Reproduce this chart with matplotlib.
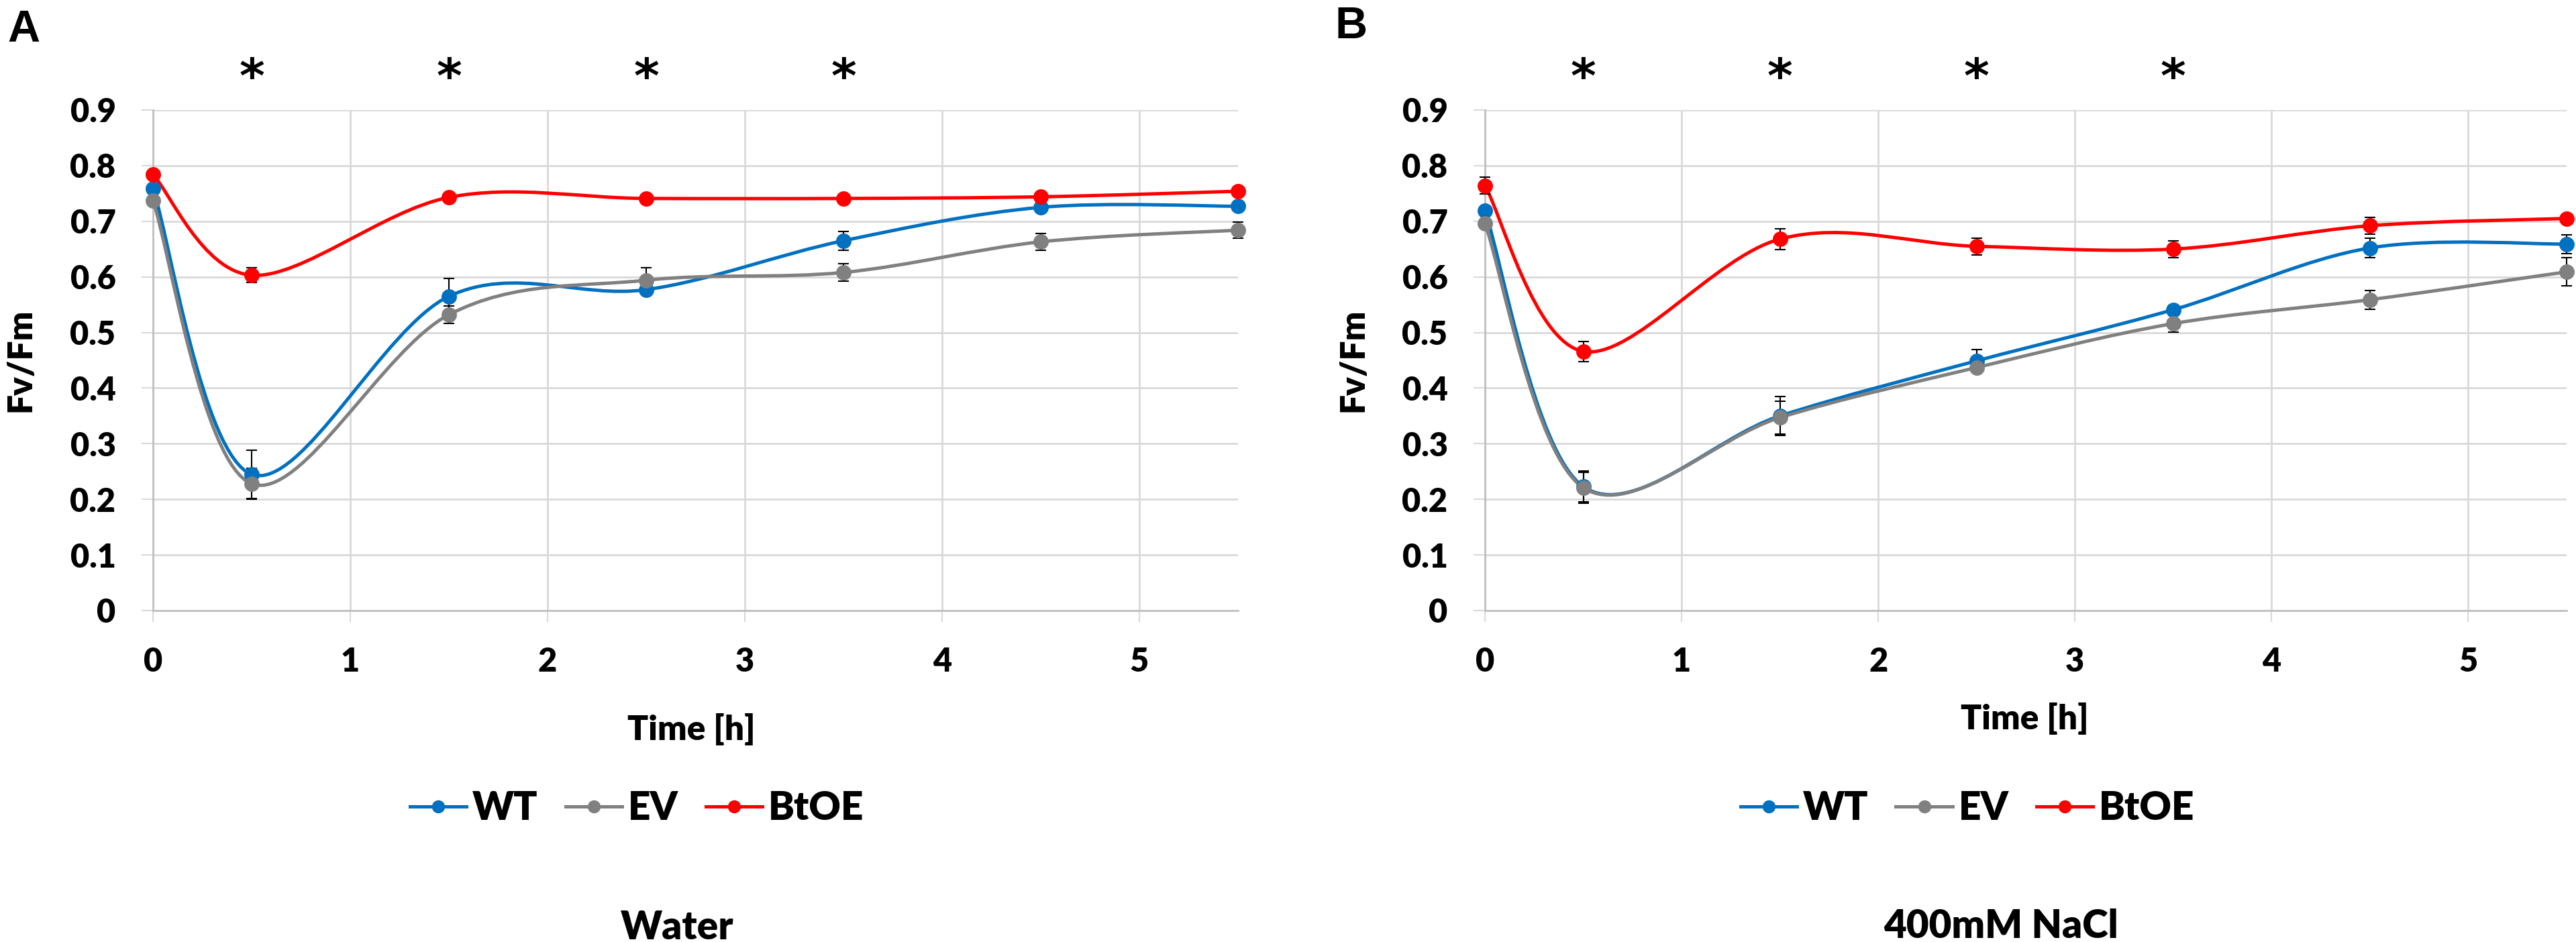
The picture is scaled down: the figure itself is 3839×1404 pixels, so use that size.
import matplotlib
matplotlib.use("Agg")
import matplotlib.pyplot as plt
import numpy as np
from matplotlib.path import Path
from matplotlib.patches import PathPatch
from matplotlib.lines import Line2D

# sampling times (h)
time_h = [0, 0.5, 1.5, 2.5, 3.5, 4.5, 5.5]
sig_times = [0.5, 1.5, 2.5, 3.5]

series_names = ["WT", "EV", "BtOE"]
series_colors = ["#0070C0", "#808080", "#FF0000"]

# panel A - water
water_wt = [0.759, 0.245, 0.565, 0.577, 0.665, 0.725, 0.727]
water_wt_err = [0.004, 0.043, 0.032, 0.008, 0.017, 0.008, 0.008]
water_ev = [0.737, 0.228, 0.532, 0.594, 0.608, 0.663, 0.684]
water_ev_err = [0.004, 0.028, 0.016, 0.022, 0.016, 0.015, 0.015]
water_btoe = [0.784, 0.603, 0.743, 0.741, 0.741, 0.744, 0.754]
water_btoe_err = [0.004, 0.013, 0.004, 0.004, 0.004, 0.004, 0.004]

# panel B - 400mM NaCl
nacl_wt = [0.719, 0.223, 0.350, 0.449, 0.541, 0.652, 0.659]
nacl_wt_err = [0.004, 0.028, 0.035, 0.020, 0.008, 0.018, 0.017]
nacl_ev = [0.696, 0.221, 0.347, 0.437, 0.516, 0.559, 0.609]
nacl_ev_err = [0.004, 0.028, 0.030, 0.008, 0.015, 0.017, 0.025]
nacl_btoe = [0.764, 0.466, 0.668, 0.655, 0.650, 0.692, 0.705]
nacl_btoe_err = [0.015, 0.018, 0.019, 0.015, 0.015, 0.015, 0.004]

plt.rcParams['font.family'] = ['Lato', 'DejaVu Sans']
plt.rcParams['font.weight'] = 'heavy'

GRID = "#D9D9D9"
AXIS = "#BFBFBF"
W, H = 3839, 1404


def smooth_path(x, y):
    # excel-style smoothed line: bezier segments through the points
    pts = np.column_stack([x, y])
    verts = [pts[0]]
    codes = [Path.MOVETO]
    n = len(pts)
    for i in range(n - 1):
        p0 = pts[i - 1] if i > 0 else pts[i]
        p1 = pts[i]
        p2 = pts[i + 1]
        p3 = pts[i + 2] if i + 2 < n else pts[i + 1]
        verts += [p1 + (p2 - p0) / 6, p2 - (p3 - p1) / 6, p2]
        codes += [Path.CURVE4] * 3
    return Path(verts, codes)


def draw_panel(ax, data, errs):
    ax.set_xlim(0, 5.5)
    ax.set_ylim(0, 0.9)
    ax.set_xticks(range(6))
    yt = np.round(np.arange(0, 0.91, 0.1), 1)
    ax.set_yticks(yt)
    ax.set_yticklabels([f"{v:g}" for v in yt])
    ax.grid(True, color=GRID, linewidth=2)
    ax.set_axisbelow(True)
    for s in ["top", "right"]:
        ax.spines[s].set_visible(False)
    for s in ["left", "bottom"]:
        ax.spines[s].set_color(AXIS)
        ax.spines[s].set_linewidth(2)
    ax.tick_params(axis='both', length=12, width=1.5, color=GRID, labelsize=35)
    ax.tick_params(axis='y', pad=28)
    ax.tick_params(axis='x', pad=27)
    for vals, err, col in zip(data, errs, series_colors):
        ax.add_patch(PathPatch(smooth_path(time_h, vals), fill=False, edgecolor=col,
                               linewidth=3.6, capstyle='round', zorder=3, clip_on=False))
        ax.errorbar(time_h, vals, yerr=err, fmt='none', ecolor='black', elinewidth=1.5,
                    capsize=6, capthick=1.5, zorder=3.5, clip_on=False)
        ax.plot(time_h, vals, 'o', color=col, markersize=15.5, zorder=4, clip_on=False)
    for t in sig_times:
        ax.text(t, 0.955, "*", ha='center', va='center', fontsize=52,
                family='DejaVu Sans', fontweight='bold', clip_on=False)
    ax.text(-0.122, 0.5, "Fv/Fm", transform=ax.transAxes, rotation=90,
            ha='center', va='center', fontsize=37)
    handles = [Line2D([], [], color=c, lw=3.6, marker='o', markersize=13)
               for c in series_colors]
    ax.legend(handles, series_names, loc='center', bbox_to_anchor=(0.446, -0.395),
              ncol=3, frameon=False, fontsize=42, handlelength=1.45,
              handletextpad=0.15, columnspacing=0.7)


fig = plt.figure(figsize=(W / 100, H / 100), dpi=100)
ax_a = fig.add_axes([228 / W, 494 / H, 1617 / W, 746 / H])
ax_b = fig.add_axes([2213 / W, 494 / H, 1612 / W, 746 / H])

draw_panel(ax_a, [water_wt, water_ev, water_btoe],
           [water_wt_err, water_ev_err, water_btoe_err])
draw_panel(ax_b, [nacl_wt, nacl_ev, nacl_btoe],
           [nacl_wt_err, nacl_ev_err, nacl_btoe_err])

fig.text(1030 / W, 1 - 1103 / H, "Time [h]", ha='center', va='baseline', fontsize=37)
fig.text(3017 / W, 1 - 1087 / H, "Time [h]", ha='center', va='baseline', fontsize=37)
fig.text(1009 / W, 1 - 1400 / H, "Water", ha='center', va='baseline', fontsize=42)
fig.text(2982 / W, 1 - 1398 / H, "400mM NaCl", ha='center', va='baseline', fontsize=42)
fig.text(35 / W, 1 - 62 / H, "A", ha='center', va='baseline', fontsize=48,
         family='Liberation Sans', fontweight='bold')
fig.text(2014 / W, 1 - 57 / H, "B", ha='center', va='baseline', fontsize=48,
         family='Liberation Sans', fontweight='bold')

fig.savefig("out.png", dpi=100, facecolor='white')
